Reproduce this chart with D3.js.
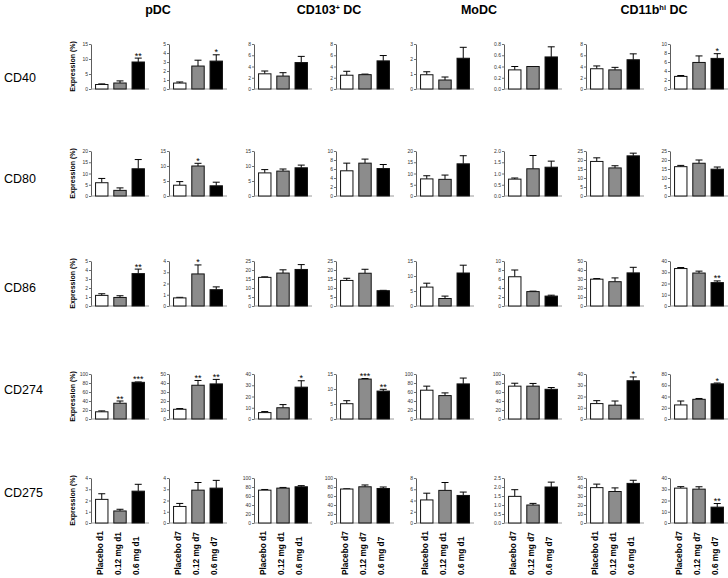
<!DOCTYPE html>
<html>
<head>
<meta charset="utf-8">
<script src="https://cdn.jsdelivr.net/npm/d3@7"></script>
<style>
  body { margin: 0; background: #fff; }
  svg { display: block; font-family: "Liberation Sans", Arial, sans-serif; }
</style>
</head>
<body>
<script>
// Categories
const markers = ["CD40", "CD80", "CD86", "CD274", "CD275"];
const groups = ["Placebo", "0.12 mg", "0.6 mg"];
const panelDays = ["d1", "d7", "d1", "d7", "d1", "d7", "d1", "d7"];

// Mean expression (%) per panel: [Placebo, 0.12 mg, 0.6 mg]
// panel order: pDC d1, pDC d7, CD103 d1, CD103 d7, MoDC d1, MoDC d7, CD11b d1, CD11b d7
const meanCD40 = [[1.5, 2.0, 9.0], [0.66, 2.55, 3.1], [2.7, 2.3, 4.7], [2.45, 2.55, 5.0], [0.95, 0.6, 2.05], [0.34, 0.4, 0.57], [3.6, 3.4, 5.2], [2.8, 5.9, 6.8]];
const meanCD80 = [[5.9, 2.5, 12.1], [3.6, 10.0, 3.4], [7.7, 8.3, 9.4], [5.6, 7.3, 6.1], [7.6, 7.4, 14.3], [0.75, 1.21, 1.28], [19.2, 15.6, 22.3], [16.3, 18.2, 14.9]];
const meanCD86 = [[1.18, 0.95, 3.6], [0.72, 2.85, 1.45], [15.9, 18.3, 20.3], [14.2, 18.2, 8.5], [6.3, 2.5, 11.0], [6.5, 3.2, 2.2], [29.8, 27.0, 36.8], [33.3, 29.3, 20.8]];
const meanCD274 = [[16, 35, 81.5], [10.8, 37.5, 39], [5.7, 10, 28.3], [5.1, 13.3, 9.3], [64, 52, 78], [73, 73, 66], [13.7, 12.3, 34], [25, 35, 62.5]];
const meanCD275 = [[2.1, 1.07, 2.83], [1.47, 2.92, 3.1], [73, 77.5, 80.5], [75.5, 80.5, 76.7], [4.1, 5.8, 4.9], [1.48, 1.0, 2.0], [39.3, 35, 44], [31, 30.1, 14.1]];

// Top of the error bar (mean + SEM)
const errCD40 = [[1.7, 2.7, 10.3], [0.78, 3.2, 3.8], [3.2, 2.9, 5.8], [3.15, 2.65, 5.95], [1.15, 0.8, 2.78], [0.4, 0.4, 0.75], [4.1, 3.85, 6.25], [3.0, 7.35, 7.85]];
const errCD80 = [[7.8, 3.6, 16.2], [4.8, 10.9, 4.6], [8.8, 9.0, 10.3], [7.3, 8.2, 7.0], [9.0, 9.3, 17.9], [0.8, 1.8, 1.55], [21.2, 16.8, 23.8], [17.0, 20.0, 16.1]];
const errCD86 = [[1.36, 1.14, 4.1], [0.77, 3.65, 1.7], [16.2, 20.1, 23.0], [15.4, 20.4, 8.7], [7.6, 3.3, 13.6], [8.0, 3.3, 2.4], [30.5, 31.2, 43.0], [34.2, 31.0, 22.3]];
const errCD274 = [[18, 40, 82.3], [11.6, 42.8, 44], [6.6, 12.8, 34], [6.1, 13.5, 9.9], [73, 58, 91], [79.5, 79, 70], [16.3, 16, 37.4], [32, 36.5, 64]];
const errCD275 = [[2.6, 1.22, 3.44], [1.74, 3.6, 3.79], [74.5, 79, 83], [76, 84.5, 80], [5.3, 7.2, 5.5], [1.85, 1.09, 2.27], [43.2, 39, 47.5], [32.3, 32.2, 17.3]];

// Significance marks
const sigCD40 = [["", "", "**"], ["", "", "*"], ["", "", ""], ["", "", ""], ["", "", ""], ["", "", ""], ["", "", ""], ["", "", "*"]];
const sigCD80 = [["", "", ""], ["", "*", ""], ["", "", ""], ["", "", ""], ["", "", ""], ["", "", ""], ["", "", ""], ["", "", ""]];
const sigCD86 = [["", "", "**"], ["", "*", ""], ["", "", ""], ["", "", ""], ["", "", ""], ["", "", ""], ["", "", ""], ["", "", "**"]];
const sigCD274 = [["", "**", "***"], ["", "**", "**"], ["", "", "*"], ["", "***", "**"], ["", "", ""], ["", "", ""], ["", "", "*"], ["", "", "*"]];
const sigCD275 = [["", "", ""], ["", "", ""], ["", "", ""], ["", "", ""], ["", "", ""], ["", "", ""], ["", "", ""], ["", "", "**"]];

// Y axis max and tick step per panel
const yMax = [
  [15, 5, 8, 8, 3, 0.8, 8, 10],
  [20, 15, 15, 10, 20, 2, 25, 25],
  [5, 4, 25, 25, 15, 10, 50, 40],
  [100, 50, 40, 15, 100, 100, 40, 80],
  [4, 4, 100, 100, 8, 2.5, 50, 40],
];
const yStep = [
  [5, 1, 2, 2, 1, 0.2, 2, 2],
  [5, 5, 5, 2, 5, 0.5, 5, 5],
  [1, 1, 5, 5, 5, 2, 10, 10],
  [20, 10, 10, 5, 20, 20, 10, 20],
  [1, 1, 20, 20, 2, 0.5, 10, 10],
];

const means = [meanCD40, meanCD80, meanCD86, meanCD274, meanCD275];
const errs = [errCD40, errCD80, errCD86, errCD274, errCD275];
const sigs = [sigCD40, sigCD80, sigCD86, sigCD274, sigCD275];

// Layout
const width = 728;
const height = 578;
const colX = [91, 169, 254, 336, 416, 504, 586, 670];
const rowTop = [44, 151, 261, 374, 478];
const rowLabelY = [82, 183, 292, 394, 497];
const plotH = 45;
const plotW = 58;
const barColors = ["#ffffff", "#8c8c8c", "#000000"];

const svg = d3
  .select("body")
  .append("svg")
  .attr("width", width)
  .attr("height", height);

// Column headers
const headers = svg
  .append("g")
  .style("font-size", "12.5px")
  .style("font-weight", "bold")
  .attr("text-anchor", "middle");

headers.append("text").attr("x", 158).attr("y", 14).text("pDC");

const h2 = headers.append("text").attr("x", 329).attr("y", 14);
h2.append("tspan").text("CD103");
h2.append("tspan").attr("dy", -4).style("font-size", "7px").text("+");
h2.append("tspan").attr("dy", 4).text(" DC");

headers.append("text").attr("x", 479).attr("y", 14).text("MoDC");

const h4 = headers.append("text").attr("x", 654).attr("y", 14);
h4.append("tspan").text("CD11b");
h4.append("tspan").attr("dy", -4).style("font-size", "7.5px").text("hi");
h4.append("tspan").attr("dy", 4).text(" DC");

// Row labels
svg
  .selectAll(".row-label")
  .data(markers)
  .enter()
  .append("text")
  .attr("class", "row-label")
  .attr("x", 4)
  .attr("y", (d, i) => rowLabelY[i])
  .style("font-size", "12.5px")
  .text((d) => d);

// Panels
markers.forEach((marker, r) => {
  colX.forEach((cx, c) => {
    const g = svg
      .append("g")
      .attr("transform", `translate(${cx},${rowTop[r]})`);

    const max = yMax[r][c];
    const step = yStep[r][c];

    const y = d3.scaleLinear().domain([0, max]).range([plotH, 0]);
    const x = d3
      .scaleBand()
      .domain(groups)
      .range([0, plotW])
      .paddingInner(0.32)
      .paddingOuter(0.25);

    const yAxis = d3
      .axisLeft(y)
      .tickValues(d3.range(0, max + step / 2, step))
      .tickFormat(step < 1 ? d3.format(".1f") : d3.format("d"))
      .tickSize(2)
      .tickSizeOuter(0)
      .tickPadding(1);

    const ax = g.append("g").call(yAxis);
    ax.select(".domain").attr("stroke", "#333").attr("stroke-width", 0.8);
    ax.selectAll(".tick line").attr("stroke", "#333").attr("stroke-width", 0.7);
    ax.selectAll(".tick text")
      .attr("fill", "#333")
      .style("font-size", "5px")
      .style("font-family", "'Liberation Sans', Arial, sans-serif");

    // x baseline
    g.append("line")
      .attr("x1", 0)
      .attr("x2", plotW)
      .attr("y1", y(0))
      .attr("y2", y(0))
      .attr("stroke", "#9a9a9a")
      .attr("stroke-width", 1);

    const rows = groups.map((grp, i) => ({
      group: grp,
      i: i,
      mean: means[r][c][i],
      top: errs[r][c][i],
      sig: sigs[r][c][i],
    }));

    // Error bars
    const eb = g.selectAll(".err").data(rows).enter().append("g");
    eb.append("line")
      .attr("x1", (d) => x(d.group) + x.bandwidth() / 2)
      .attr("x2", (d) => x(d.group) + x.bandwidth() / 2)
      .attr("y1", (d) => y(d.mean))
      .attr("y2", (d) => y(d.top))
      .attr("stroke", "#000")
      .attr("stroke-width", 1);
    eb.append("line")
      .attr("x1", (d) => x(d.group) + x.bandwidth() / 2 - 3.5)
      .attr("x2", (d) => x(d.group) + x.bandwidth() / 2 + 3.5)
      .attr("y1", (d) => y(d.top))
      .attr("y2", (d) => y(d.top))
      .attr("stroke", "#000")
      .attr("stroke-width", 1);

    // Bars
    g.selectAll(".bar")
      .data(rows)
      .enter()
      .append("rect")
      .attr("x", (d) => x(d.group))
      .attr("y", (d) => y(d.mean))
      .attr("width", x.bandwidth())
      .attr("height", (d) => y(0) - y(d.mean))
      .attr("fill", (d) => barColors[d.i])
      .attr("stroke", "#111")
      .attr("stroke-width", 1);

    // Significance
    g.selectAll(".sig")
      .data(rows.filter((d) => d.sig))
      .enter()
      .append("text")
      .attr("x", (d) => x(d.group) + x.bandwidth() / 2)
      .attr("y", (d) => y(d.top) + 0.5)
      .attr("text-anchor", "middle")
      .style("font-size", "9px")
      .text((d) => d.sig);

    // Y label on first column
    if (c === 0) {
      g.append("text")
        .attr("transform", `translate(-16,${plotH / 2}) rotate(-90)`)
        .attr("text-anchor", "middle")
        .style("font-size", "7px")
        .style("font-weight", "bold")
        .text("Expression (%)");
    }

    // X labels on last row
    if (r === markers.length - 1) {
      g.selectAll(".xlabel")
        .data(rows)
        .enter()
        .append("text")
        .attr(
          "transform",
          (d) =>
            `translate(${x(d.group) + x.bandwidth() / 2 + 1},${575 - rowTop[r]}) rotate(-90)`
        )
        .attr("text-anchor", "start")
        .style("font-size", "8.3px")
        .style("font-weight", "bold")
        .text((d) => `${d.group} ${panelDays[c]}`);
    }
  });
});
</script>
</body>
</html>
